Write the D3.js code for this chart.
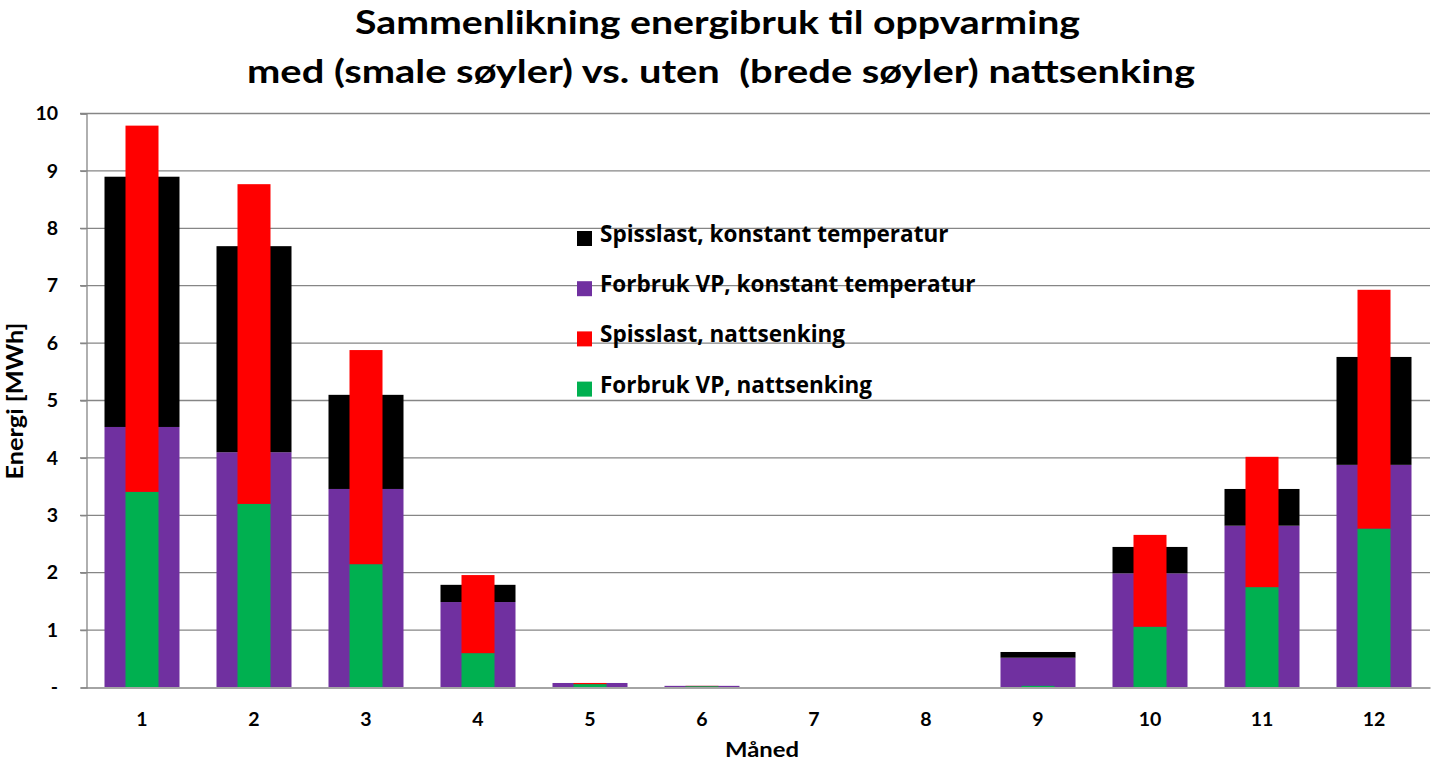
<!DOCTYPE html>
<html><head><meta charset="utf-8">
<script src="https://cdn.jsdelivr.net/npm/d3@7"></script>
<style>body{margin:0;background:#fff;} svg{display:block;font-family:Lato,"Open Sans",sans-serif;}</style>
</head><body>
<script>
const months = ["1","2","3","4","5","6","7","8","9","10","11","12"];
const vpKonstant      = [4.53, 4.09, 3.45, 1.48, 0.07, 0.02, 0, 0, 0.51, 1.98, 2.81, 3.87];
const spissKonstant   = [4.36, 3.59, 1.64, 0.30, 0.00, 0.00, 0, 0, 0.10, 0.46, 0.64, 1.88];
const vpNatt          = [3.40, 3.19, 2.14, 0.59, 0.05, 0.015, 0, 0, 0.02, 1.05, 1.74, 2.76];
const spissNatt       = [6.38, 5.57, 3.73, 1.36, 0.02, 0.005, 0, 0, 0.00, 1.60, 2.27, 4.16];
const yTicks = [0,1,2,3,4,5,6,7,8,9,10];
const titleLines = ["Sammenlikning energibruk til oppvarming","med (smale søyler) vs. uten  (brede søyler) nattsenking"];
const legendLabels = ["Spisslast, konstant temperatur","Forbruk VP, konstant temperatur","Spisslast, nattsenking","Forbruk VP, nattsenking"];
const colors = {spissK:"#000000", vpK:"#7030A0", spissN:"#FF0000", vpN:"#00B050"};

const W=1434,H=763;
const svg=d3.select("body").append("svg").attr("width",W).attr("height",H);
const m={l:86,r:1430,t:113,b:687};
const x=d3.scaleBand().domain(months).range([m.l,m.r]).paddingInner(0).paddingOuter(0);
const y=d3.scaleLinear().domain([0,10]).range([m.b,m.t]);
const grid="#868686";

// gridlines
svg.append("g").selectAll("line").data(yTicks.filter(d=>d>0)).join("line")
  .attr("x1",m.l-6).attr("x2",m.r).attr("y1",d=>y(d)+0.5).attr("y2",d=>y(d)+0.5)
  .attr("stroke",grid).attr("stroke-width",1.3);

// y axis
const yAxis=d3.axisLeft(y).tickValues(yTicks).tickSize(6).tickFormat(d=>d===0?"-":d);
const ya=svg.append("g").attr("transform",`translate(${m.l+0.5},0.5)`).call(yAxis);
ya.select(".domain").attr("stroke",grid).attr("stroke-width",1.3);
ya.selectAll(".tick line").attr("stroke",grid).attr("stroke-width",1.3);
ya.selectAll(".tick text").attr("x",-28.5).attr("font-size",19.5).attr("font-weight","bold").attr("fill","#000").attr("font-family","Lato,sans-serif");

const wideW=75, narrowW=33;
const cx=d=>x(d)+x.bandwidth()/2;
const data=months.map((mo,i)=>({mo,vpK:vpKonstant[i],spK:spissKonstant[i],vpN:vpNatt[i],spN:spissNatt[i]}));
const bars=svg.append("g");
// wide bars
bars.selectAll(".vpk").data(data).join("rect").attr("x",d=>cx(d.mo)-wideW/2).attr("width",wideW)
  .attr("y",d=>y(d.vpK)).attr("height",d=>y(0)-y(d.vpK)).attr("fill",colors.vpK);
bars.selectAll(".spk").data(data).join("rect").attr("x",d=>cx(d.mo)-wideW/2).attr("width",wideW)
  .attr("y",d=>y(d.vpK+d.spK)).attr("height",d=>y(d.vpK)-y(d.vpK+d.spK)).attr("fill",colors.spissK);
// narrow bars
bars.selectAll(".vpn").data(data).join("rect").attr("x",d=>cx(d.mo)-narrowW/2).attr("width",narrowW)
  .attr("y",d=>y(d.vpN)).attr("height",d=>y(0)-y(d.vpN)).attr("fill",colors.vpN);
bars.selectAll(".spn").data(data).join("rect").attr("x",d=>cx(d.mo)-narrowW/2).attr("width",narrowW)
  .attr("y",d=>y(d.vpN+d.spN)).attr("height",d=>y(d.vpN)-y(d.vpN+d.spN)).attr("fill",colors.spissN);

// x axis
const xAxis=d3.axisBottom(x).tickSize(0).tickPadding(25);
const xa=svg.append("g").attr("transform",`translate(0,${m.b+0.5})`).call(xAxis);
xa.select(".domain").attr("stroke",grid).attr("stroke-width",1.3);
xa.selectAll(".tick text").attr("font-size",19.5).attr("font-weight","bold").attr("fill","#000").attr("font-family","Lato,sans-serif");

// titles
svg.append("text").attr("x",717.5).attr("y",34).attr("text-anchor","middle").attr("font-size",33).attr("font-weight","bold")
  .attr("textLength",725).attr("lengthAdjust","spacingAndGlyphs").text(titleLines[0]);
svg.append("text").attr("x",721).attr("y",83).attr("text-anchor","middle").attr("font-size",33).attr("font-weight","bold")
  .attr("textLength",948).attr("lengthAdjust","spacingAndGlyphs").attr("xml:space","preserve").style("white-space","pre").text(titleLines[1]);

// axis titles
svg.append("text").attr("x",762).attr("y",757).attr("text-anchor","middle").attr("font-size",21).attr("font-weight","bold")
  .attr("textLength",74).attr("lengthAdjust","spacingAndGlyphs").text("Måned");
svg.append("text").attr("transform","translate(23,401) rotate(-90)").attr("text-anchor","middle").attr("font-size",22).attr("font-weight","bold")
  .attr("textLength",157).attr("lengthAdjust","spacingAndGlyphs").text("Energi [MWh]");

// legend
const lc=[colors.spissK,colors.vpK,colors.spissN,colors.vpN];
const lg=svg.append("g");
legendLabels.forEach((t,i)=>{
  const yy=238+i*50.2;
  lg.append("rect").attr("x",577).attr("y",yy-7).attr("width",15).attr("height",15).attr("fill",lc[i]);
  lg.append("text").attr("x",600).attr("y",yy+4).attr("font-size",22.5).attr("font-weight","bold")
    .attr("font-family","'Open Sans',sans-serif").text(t);
});
</script>
</body></html>
